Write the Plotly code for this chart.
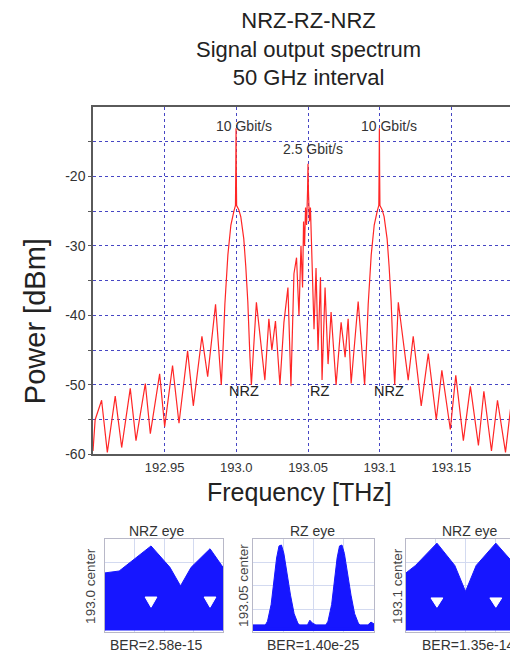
import plotly.graph_objects as go

W, H = 518, 657

# ---------------- main spectrum data ----------------
freq_thz = [
    192.9000, 192.9015, 192.9060, 192.9100, 192.9155, 192.9200, 192.9260, 192.9300,
    192.9365, 192.9400, 192.9465, 192.9500, 192.9555, 192.9600, 192.9660, 192.9700,
    192.9760, 192.9800, 192.9855, 192.9895,
    192.9909, 192.9920, 192.9941, 192.9962, 192.9983, 192.9994, 192.9996, 192.9998,
    193.0000, 193.0002, 193.0017, 193.0031, 193.0052, 193.0066, 193.0080, 193.0095, 193.0105,
    193.0140, 193.0199, 193.0227, 193.0248, 193.0273, 193.0304, 193.0332, 193.0360,
    193.0381, 193.0402, 193.0420, 193.0437, 193.0451, 193.0462, 193.0469, 193.0476,
    193.0483, 193.0490, 193.0497, 193.0500, 193.0503, 193.0510, 193.0517, 193.0524,
    193.0531, 193.0542, 193.0556, 193.0570, 193.0587, 193.0598, 193.0619, 193.0640,
    193.0661, 193.0696, 193.0731, 193.0759, 193.0780, 193.0801, 193.0850, 193.0895,
    193.0909, 193.0920, 193.0941, 193.0962, 193.0983, 193.0994, 193.0996, 193.0998,
    193.1000, 193.1002, 193.1017, 193.1031, 193.1052, 193.1066, 193.1080, 193.1095, 193.1105,
    193.1130, 193.1199, 193.1234, 193.1290, 193.1339, 193.1395, 193.1434, 193.1493,
    193.1531, 193.1584, 193.1633, 193.1689, 193.1727, 193.1780, 193.1822, 193.1878,
    193.1920, 193.1955, 193.1986, 193.2000,
]
power_dbm = [
    -59.5, -55.0, -52.2, -59.7, -51.6, -59.0, -50.5, -58.0,
    -49.8, -57.0, -48.4, -56.0, -47.2, -55.5, -45.1, -53.0,
    -43.0, -48.8, -38.4, -50.0,
    -44.0, -38.4, -31.3, -27.0, -25.0, -24.2, -19.5, -13.1,
    -20.0, -24.2, -24.8, -25.8, -29.0, -33.0, -38.0, -46.0, -50.0,
    -38.1, -49.3, -40.5, -45.0, -40.8, -50.0, -41.0, -36.0,
    -50.2, -34.0, -31.7, -40.0, -30.0, -36.0, -26.5, -30.0,
    -24.5, -27.0, -22.0, -18.2, -22.0, -26.5, -24.5, -30.0,
    -35.0, -42.0, -33.2, -45.0, -34.5, -49.3, -36.0, -47.0,
    -39.5, -50.0, -41.0, -46.0, -40.5, -49.8, -38.0, -50.0,
    -44.0, -38.4, -31.3, -27.0, -25.0, -24.2, -19.5, -13.1,
    -20.0, -24.2, -24.8, -25.8, -29.0, -33.0, -38.0, -46.0, -50.0,
    -38.1, -49.3, -43.0, -53.0, -45.5, -55.0, -47.9, -56.4,
    -48.6, -58.0, -50.2, -58.7, -50.9, -59.5, -52.2, -59.7,
    -52.2, -59.0, -54.5, -59.5,
]
assert len(freq_thz) == len(power_dbm)

x_tick_vals = [192.95, 193.0, 193.05, 193.1, 193.15]
x_tick_text = ["192.95", "193.0", "193.05", "193.1", "193.15"]
y_tick_vals = [-60, -55, -50, -45, -40, -35, -30, -25, -20, -15]
y_tick_text = ["-60", "", "-50", "", "-40", "", "-30", "", "-20", ""]

rate_labels = ["10 Gbit/s", "2.5 Gbit/s", "10 Gbit/s"]
rate_label_freq = [193.0052, 193.0535, 193.1066]
rate_label_dbm = [-12.8, -16.1, -12.8]
format_labels = ["NRZ", "RZ", "NRZ"]
format_label_freq = [193.0052, 193.0577, 193.1066]
format_label_dbm = [-50.8, -50.8, -50.8]

# ---------------- eye diagrams (normalised time / amplitude) ----------------
eye_titles = ["NRZ eye", "RZ eye", "NRZ eye"]
eye_ylabels = ["193.0 center", "193.05 center", "193.1 center"]
eye_ber = ["BER=2.58e-15", "BER=1.40e-25", "BER=1.35e-14"]

# NRZ eye at 193.0: outer envelope of the traces
eye1_env_t = [0, 0, 0.12, 0.39, 0.55, 0.64, 0.73, 0.89, 1.0, 1.0]
eye1_env_a = [0.02, 0.64, 0.66, 0.93, 0.70, 0.50, 0.70, 0.90, 0.70, 0.02]
eye1_open_t = [0.34, 0.44, 0.39, 0.34, None, 0.84, 0.94, 0.89, 0.84]
eye1_open_a = [0.38, 0.38, 0.27, 0.38, None, 0.38, 0.38, 0.27, 0.38]

# RZ eye at 193.05: two pulses + baseline
eye2_pulse_t = [0.09, 0.12, 0.15, 0.17, 0.195, 0.215, 0.235, 0.255, 0.28, 0.31, 0.34, 0.37, 0.40, None,
                0.59, 0.62, 0.65, 0.67, 0.695, 0.715, 0.735, 0.755, 0.78, 0.81, 0.84, 0.87, 0.90]
eye2_pulse_a = [0.05, 0.12, 0.30, 0.55, 0.80, 0.93, 0.94, 0.85, 0.62, 0.40, 0.20, 0.10, 0.05, None,
                0.05, 0.12, 0.30, 0.55, 0.80, 0.93, 0.94, 0.85, 0.62, 0.40, 0.20, 0.10, 0.05]
eye2_base_t = [0, 0.45, 0.47, 0.49, 0.52, 0.95, 0.975, 1.0, 1.0, 0]
eye2_base_a = [0.08, 0.08, 0.13, 0.10, 0.08, 0.08, 0.11, 0.09, 0.02, 0.02]

# NRZ eye at 193.1
eye3_env_t = [0, 0, 0.08, 0.26, 0.41, 0.50, 0.59, 0.755, 0.92, 1.0, 1.0]
eye3_env_a = [0.02, 0.64, 0.72, 0.96, 0.72, 0.44, 0.72, 0.96, 0.72, 0.66, 0.02]
eye3_open_t = [0.21, 0.31, 0.26, 0.21, None, 0.705, 0.805, 0.755, 0.705]
eye3_open_a = [0.37, 0.37, 0.27, 0.37, None, 0.37, 0.37, 0.27, 0.37]

# ---------------- layout geometry (pixels) ----------------
def px(x):
    return x / W


def py(y):
    return 1 - y / H


MAIN_L, MAIN_R, MAIN_T, MAIN_B = 85, 515, 100, 452
EYE_T, EYE_B = 538, 632
eye_boxes = [(97, 215), (245, 366), (398, 517)]
eye_title_x = [148, 304, 461]
eye_ylabel_x = [83, 236, 390]
eye_ber_x = [148, 305, 460]

FONT = "Liberation Sans, Arial, sans-serif"
TXT = "#2a2a2a"
EYE_BLUE = "#1616ff"

fig = go.Figure()

fig.add_trace(go.Scatter(
    x=freq_thz, y=power_dbm, mode="lines",
    line=dict(color="#ff2626", width=1.2),
    xaxis="x", yaxis="y", hoverinfo="skip",
))

def add_poly(t, a, color, axis_idx):
    fig.add_trace(go.Scatter(
        x=t, y=a, mode="lines", fill="toself", fillcolor=color,
        line=dict(color=color, width=1),
        xaxis=f"x{axis_idx}", yaxis=f"y{axis_idx}", hoverinfo="skip",
    ))

add_poly(eye1_env_t, eye1_env_a, EYE_BLUE, 2)
add_poly(eye1_open_t, eye1_open_a, "white", 2)
add_poly(eye2_base_t, eye2_base_a, EYE_BLUE, 3)
add_poly(eye2_pulse_t, eye2_pulse_a, EYE_BLUE, 3)
add_poly(eye3_env_t, eye3_env_a, EYE_BLUE, 4)
add_poly(eye3_open_t, eye3_open_a, "white", 4)

grid_col = "#4646c4"
layout = dict(
    width=W, height=H,
    margin=dict(l=0, r=0, t=0, b=0),
    paper_bgcolor="white", plot_bgcolor="white",
    showlegend=False,
    font=dict(family=FONT, color=TXT),
    xaxis=dict(
        domain=[px(MAIN_L), px(MAIN_R)], range=[192.9, 193.2],
        tickvals=x_tick_vals, ticktext=x_tick_text,
        tickfont=dict(size=13, color="#333"),
        showgrid=True, gridcolor=grid_col, griddash="dot", gridwidth=1,
        showline=True, mirror=True, linecolor="#5a5a5a", linewidth=1.5,
        zeroline=False, ticks="", anchor="y",
    ),
    yaxis=dict(
        domain=[py(MAIN_B), py(MAIN_T)], range=[-60, -10],
        tickvals=y_tick_vals, ticktext=y_tick_text,
        tickfont=dict(size=14, color="#333"),
        showgrid=True, gridcolor=grid_col, griddash="dot", gridwidth=1,
        showline=True, mirror=True, linecolor="#5a5a5a", linewidth=1.5,
        zeroline=False, ticks="outside", ticklen=3, tickcolor="#5a5a5a",
        anchor="x",
    ),
)
for i, (l, r) in enumerate(eye_boxes, start=2):
    common = dict(
        range=[0, 1], showticklabels=False, ticks="", zeroline=False,
        showgrid=True, gridcolor="#d3daf0", gridwidth=1, dtick=0.25,
        showline=True, mirror=True, linecolor="#b8b8c8", linewidth=1,
    )
    layout[f"xaxis{i}"] = dict(domain=[px(l), px(r)], anchor=f"y{i}", **common)
    layout[f"yaxis{i}"] = dict(domain=[py(EYE_B), py(EYE_T)], anchor=f"x{i}", **common)

annotations = []
annotations.append(dict(
    text="NRZ-RZ-NRZ<br>Signal output spectrum<br>50 GHz interval",
    xref="paper", yref="paper", x=px(300), y=py(42),
    xanchor="center", yanchor="middle", showarrow=False,
    font=dict(size=22, color="#222", family=FONT),
))
annotations.append(dict(
    text="Frequency [THz]", xref="paper", yref="paper",
    x=px(291), y=py(490), xanchor="center", yanchor="middle", showarrow=False,
    font=dict(size=25, color="#222", family=FONT),
))
annotations.append(dict(
    text="Power [dBm]", xref="paper", yref="paper", textangle=-90,
    x=px(27), y=py(317), xanchor="center", yanchor="middle", showarrow=False,
    font=dict(size=29, color="#222", family=FONT),
))
for t, fx, fy in zip(rate_labels, rate_label_freq, rate_label_dbm):
    annotations.append(dict(text=t, x=fx, y=fy, xref="x", yref="y", showarrow=False,
                            xanchor="center", yanchor="middle",
                            font=dict(size=14, color="#333", family=FONT)))
for t, fx, fy in zip(format_labels, format_label_freq, format_label_dbm):
    annotations.append(dict(text=t, x=fx, y=fy, xref="x", yref="y", showarrow=False,
                            xanchor="center", yanchor="middle",
                            font=dict(size=14.5, color="#222", family=FONT)))
for k in range(3):
    annotations.append(dict(text=eye_titles[k], xref="paper", yref="paper",
                            x=px(eye_title_x[k]), y=py(529), showarrow=False,
                            xanchor="center", yanchor="middle",
                            font=dict(size=14, color="#333", family=FONT)))
    annotations.append(dict(text=eye_ylabels[k], xref="paper", yref="paper", textangle=-90,
                            x=px(eye_ylabel_x[k]), y=py(585), showarrow=False,
                            xanchor="center", yanchor="middle",
                            font=dict(size=13.5, color="#444", family=FONT)))
    annotations.append(dict(text=eye_ber[k], xref="paper", yref="paper",
                            x=px(eye_ber_x[k]), y=py(645), showarrow=False,
                            xanchor="center", yanchor="middle",
                            font=dict(size=14, color="#333", family=FONT)))
layout["annotations"] = annotations

fig.update_layout(**layout)
fig.write_html("out.html")
